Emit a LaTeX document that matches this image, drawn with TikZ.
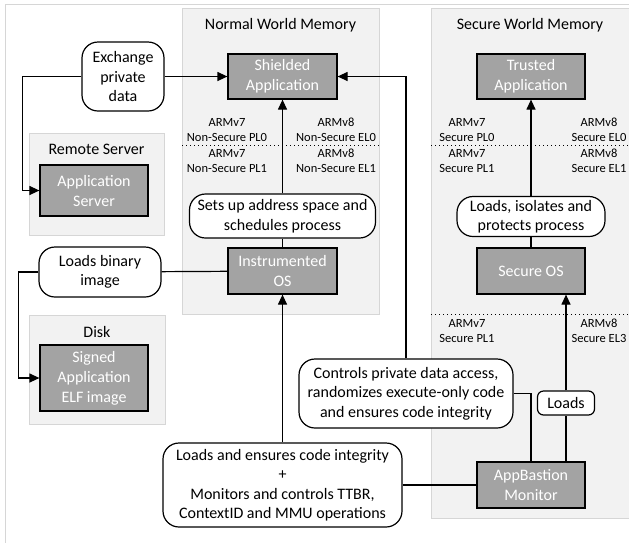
\documentclass[tikz,border=0pt]{standalone}
\usepackage{fontspec}
\setmainfont{Carlito}
\usepackage{tikz}
\usetikzlibrary{arrows.meta, positioning}
\usepackage{xcolor}
\definecolor{boxgray}{HTML}{A3A3A3}
\definecolor{worldfill}{HTML}{F2F2F2}
\definecolor{worldline}{HTML}{D6D6D6}
\tikzset{%
	world/.style={
		draw=worldline,
		fill=worldfill,
		line width=0.8pt,
		inner sep=0pt
	},
	unit/.style={
		draw,
		fill=boxgray,
		text=white,
		line width=1.2pt,
		align=center,
		inner sep=0pt,
		minimum width=108pt,
		minimum height=46pt,
		font=\fontsize{16}{20}\selectfont
	},
	bubble/.style={
		draw,
		fill=white,
		line width=1.2pt,
		rounded corners=16pt,
		align=center,
		inner sep=0pt,
		font=\fontsize{16}{19.5}\selectfont
	},
	level/.style={
		align=center,
		inner sep=0pt,
		font=\fontsize{12.5}{14.5}\selectfont
	},
	title/.style={
		inner sep=0pt,
		font=\fontsize{16}{19}\selectfont
	},
	link/.style={
		line width=1.2pt
	},
	arrow/.style={
		line width=1.2pt,
		-{Triangle[length=10pt,width=9pt]}
	},
	ring/.style={
		line width=1pt,
		dash pattern=on 1.4pt off 2.6pt
	},
}
\begin{document}
\begin{tikzpicture}[x=1pt,y=-1pt]
			\clip (0,0) rectangle (629,542);
			\draw[worldline, line width=0.8pt] (5,4) rectangle (660,570);
			
			% memory regions
			\node[world, minimum width=197pt, minimum height=306pt] (normal) at (280.5,161) {};
			\node[world, minimum width=220pt, minimum height=510pt] (secure) at (541,263) {};
			\node[world, minimum width=135pt, minimum height=102pt] (remote) at (96.5,184) {};
			\node[world, minimum width=136pt, minimum height=109pt] (disk) at (97,369.5) {};
			
			\node[title] (normalT) at (280.5,25) {Normal World Memory};
			\node[title] (secureT) at (530,25) {Secure World Memory};
			\node[title] (remoteT) at (96.5,149) {Remote Server};
			\node[title] (diskT) at (97,332) {Disk};
			
			% privilege levels
			\draw[ring] (182,145) -- (379,145);
			\draw[ring] (431,145) -- (629,145);
			\draw[ring] (431,314) -- (629,314);
			\node[level] (nsPLa) at (227,130) {ARMv7\\Non-Secure PL0};
			\node[level] (nsPLb) at (227,161) {ARMv7\\Non-Secure PL1};
			\node[level] (nsELa) at (336,130) {ARMv8\\Non-Secure EL0};
			\node[level] (nsELb) at (336,161) {ARMv8\\Non-Secure EL1};
			\node[level] (sPLa) at (467,130) {ARMv7\\Secure PL0};
			\node[level] (sPLb) at (467,161) {ARMv7\\Secure PL1};
			\node[level] (sELa) at (599,130) {ARMv8\\Secure EL0};
			\node[level] (sELb) at (599,161) {ARMv8\\Secure EL1};
			\node[level] (sPLc) at (467,331) {ARMv7\\Secure PL1};
			\node[level] (sELc) at (599,331) {ARMv8\\Secure EL3};
			
			% components
			\node[unit, minimum width=109pt, minimum height=45pt] (shield) at (282.5,76.5) {Shielded\\Application};
			\node[unit, minimum width=109pt] (instr) at (282.5,271) {Instrumented\\OS};
			\node[unit, minimum height=45pt] (trusted) at (531,76.5) {Trusted\\Application};
			\node[unit] (secos) at (531,271) {Secure OS};
			\node[unit] (mon) at (531,485) {AppBastion\\Monitor};
			\node[unit, minimum height=51pt] (appsrv) at (94,190.5) {Application\\Server};
			\node[unit, minimum height=66pt] (signed) at (94,378) {Signed\\Application\\ELF image};
			
			% actions
			\node[bubble, minimum width=82pt, minimum height=69pt] (xchg) at (123,76.5) {Exchange\\private\\data};
			\node[bubble, minimum width=186pt, minimum height=44pt] (setup) at (282.5,216) {Sets up address space and\\schedules process};
			\node[bubble, minimum width=122pt, minimum height=50pt] (ldbin) at (100,272) {Loads binary\\image};
			\node[bubble, minimum width=148pt, minimum height=40pt] (protect) at (531,216.5) {Loads, isolates and\\protects process};
			\node[bubble, minimum width=214pt, minimum height=69pt] (ctrl) at (406,393.5) {Controls private data access,\\randomizes execute-only code\\and ensures code integrity};
			\node[bubble, minimum width=239pt, minimum height=84pt] (ensure) at (282.5,485) {Loads and ensures code integrity\\+\\Monitors and controls TTBR,\\ContextID and MMU operations};
			\node[bubble, rounded corners=6pt, minimum width=57pt, minimum height=24pt] (loads) at (566,403) {Loads};
			
			\draw[arrow] (xchg) -- (shield);
			\draw[arrow] (xchg.west) -| ([xshift=-17pt]appsrv.west) -- (appsrv.west);
			\draw[link] (ldbin) -- (instr);
			\draw[arrow] (ldbin.west) -| ([xshift=-21pt]signed.west) -- (signed.west);
			\draw[link] (instr) -- (setup);
			\draw[arrow] (setup) -- (shield);
			\draw[arrow] (ensure) -- (instr);
			\draw[link] (ensure) -- (mon);
			\draw[link] (mon.north) |- (ctrl.east);
			\draw[arrow] (ctrl.north) |- (shield.east);
			\draw[link] ([xshift=35pt]mon.north) -- (loads);
			\draw[arrow] (loads) -- ([xshift=35pt]secos.south);
			\draw[link] (secos) -- (protect);
			\draw[arrow] (protect) -- (trusted);
			
		\end{tikzpicture}
\end{document}
